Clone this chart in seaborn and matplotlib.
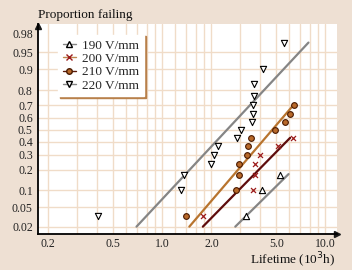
import numpy as np
import pandas as pd
import seaborn as sns
import matplotlib.pyplot as plt
from matplotlib.lines import Line2D
from math import erf, sqrt

# failure data (lifetime in 10^3 h)
voltages = ['190 V/mm', '200 V/mm', '210 V/mm', '220 V/mm']

life_190 = [3.25, 4.06, 5.28]
prop_190 = [0.033, 0.100, 0.167]

life_200 = [1.77, 3.62, 3.71, 3.72, 3.98, 5.11, 6.37]
prop_200 = [0.033, 0.100, 0.167, 0.233, 0.300, 0.367, 0.433]

life_210 = [1.40, 2.85, 2.94, 2.97, 3.30, 3.36, 3.48, 4.88, 5.67, 6.04, 6.43]
prop_210 = [0.033, 0.100, 0.167, 0.233, 0.300, 0.367, 0.433, 0.500, 0.567,
            0.633, 0.700]

life_220 = [0.404, 1.30, 1.35, 2.00, 2.08, 2.19, 2.89, 3.02, 3.55, 3.58, 3.62,
            3.67, 3.66, 4.13, 5.55]
prop_220 = [0.033, 0.100, 0.167, 0.233, 0.300, 0.367, 0.433, 0.500, 0.567,
            0.633, 0.700, 0.767, 0.833, 0.900, 0.967]

# fitted lines: median life, log10 spread per probit unit, proportion range
fit_median = [11.2, 6.79, 4.72, 2.49]
fit_sigma = [0.293, 0.284, 0.2475, 0.270]
fit_top = [0.174, 0.433, 0.708, 0.968]
fit_bottom = 0.02

y_ticks = [0.02, 0.05, 0.1, 0.2, 0.3, 0.4, 0.5, 0.6, 0.7, 0.8, 0.9, 0.95, 0.98]
y_grid = [0.02, 0.05, 0.1, 0.2, 0.3, 0.4, 0.5, 0.6, 0.7, 0.8, 0.9, 0.95]
x_ticks = [0.2, 0.5, 1.0, 2.0, 5.0, 10.0]
x_grid = [0.2, 0.3, 0.4, 0.5, 0.6, 0.7, 0.8, 0.9, 1.0, 1.2, 1.4, 1.6, 1.8,
          2, 3, 4, 5, 6, 7, 8, 9, 10]


def _probit(p):
    # inverse normal cdf by bisection, no scipy here
    lo, hi = -8.0, 8.0
    for _ in range(60):
        mid = (lo + hi) / 2
        if 0.5 * (1 + erf(mid / sqrt(2))) < p:
            lo = mid
        else:
            hi = mid
    return (lo + hi) / 2


probit = np.vectorize(_probit)

frames = []
for v, t, p in zip(voltages, [life_190, life_200, life_210, life_220],
                   [prop_190, prop_200, prop_210, prop_220]):
    frames.append(pd.DataFrame({'voltage': v, 'lifetime': t, 'z': probit(p)}))
df = pd.concat(frames, ignore_index=True)

sns.set_theme(style='white')
plt.rcParams['font.family'] = ['Liberation Serif', 'DejaVu Serif']

bg = '#eee0d3'
gridc = '#f0dcc8'
gray = '#858585'
maroon = '#5e0c0c'
orange = '#b8742e'

fig = plt.figure(figsize=(3.52, 2.70), dpi=100, facecolor=bg)
ax = fig.add_axes([0.107, 0.134, 0.85, 0.776])
ax.set_facecolor('white')

line_colors = [gray, maroon, orange, gray]
for i, v in enumerate(voltages):
    zz = np.linspace(probit(fit_bottom), probit(fit_top[i]), 20)
    tt = fit_median[i] * 10 ** (fit_sigma[i] * zz)
    ax.plot(tt, zz, color=line_colors[i], lw=1.6, zorder=3)

styles = {
    '190 V/mm': dict(marker='^', color='white', edgecolor='black', s=20, linewidth=0.8),
    '200 V/mm': dict(marker='x', color='#9c1c1c', s=13, linewidth=0.9),
    '210 V/mm': dict(marker='o', color='#b8692a', edgecolor='#4a1a00', s=17, linewidth=0.8),
    '220 V/mm': dict(marker='v', color='white', edgecolor='black', s=20, linewidth=0.8),
}
for v in voltages:
    sns.scatterplot(data=df[df['voltage'] == v], x='lifetime', y='z', ax=ax,
                    zorder=4, legend=False, **styles[v])

ax.set_xscale('log')
ax.set_xlim(0.172, 11.76)
ax.set_ylim(-2.206, 2.240)

for g in x_grid:
    ax.axvline(g, color=gridc, lw=1.0, zorder=1)
for g in y_grid:
    ax.axhline(probit(g), color=gridc, lw=1.0, zorder=1)

ax.set_xticks(x_ticks)
ax.set_xticklabels(['%.1f' % x for x in x_ticks])
ax.xaxis.set_minor_locator(plt.NullLocator())
ax.set_yticks(probit(y_ticks))
ax.set_yticklabels([('%g' % y) for y in y_ticks])
ax.tick_params(axis='both', length=0, labelsize=8.5, colors='#222222')
ax.tick_params(axis='x', pad=3.0)
ax.tick_params(axis='y', pad=3.5)
ax.set_xlabel('')
ax.set_ylabel('')

for s in ['top', 'right']:
    ax.spines[s].set_visible(False)
for s in ['left', 'bottom']:
    ax.spines[s].set_color('black')
    ax.spines[s].set_linewidth(1.3)
ax.plot(1, 0, '>k', ms=5, transform=ax.transAxes, clip_on=False)
ax.plot(0, 0.99, '^k', ms=5, transform=ax.transAxes, clip_on=False)

fig.text(0.108, 0.944, 'Proportion failing', ha='left', va='center',
         fontsize=9.5, color='#111111')
fig.text(0.952, 0.034, 'Lifetime (10$^3$h)', ha='right', va='center',
         fontsize=9.5, color='#111111')

handles = [
    Line2D([], [], color=gray, lw=1, marker='^', mfc='white', mec='black', ms=4),
    Line2D([], [], color='#c08850', lw=1, marker='x', mec='#9c1c1c', ms=4),
    Line2D([], [], color='#5a1a0a', lw=1, marker='o', mfc='#b8692a', mec='#4a1a00', ms=4),
    Line2D([], [], color=gray, lw=1, marker='v', mfc='white', mec='black', ms=4),
]
leg = ax.legend(handles, voltages, loc='upper left', bbox_to_anchor=(0.068, 0.95),
                borderaxespad=0, fontsize=9.5, handlelength=1.0, handletextpad=0.5,
                labelspacing=0.08, borderpad=0.35, fancybox=False, framealpha=1,
                facecolor='white', edgecolor='white',
                shadow={'ox': 1.2, 'oy': -1.2, 'facecolor': '#b8804a',
                        'edgecolor': '#b8804a', 'alpha': 1})
leg.set_zorder(5)

fig.savefig('out.png', dpi=100, facecolor=bg)
